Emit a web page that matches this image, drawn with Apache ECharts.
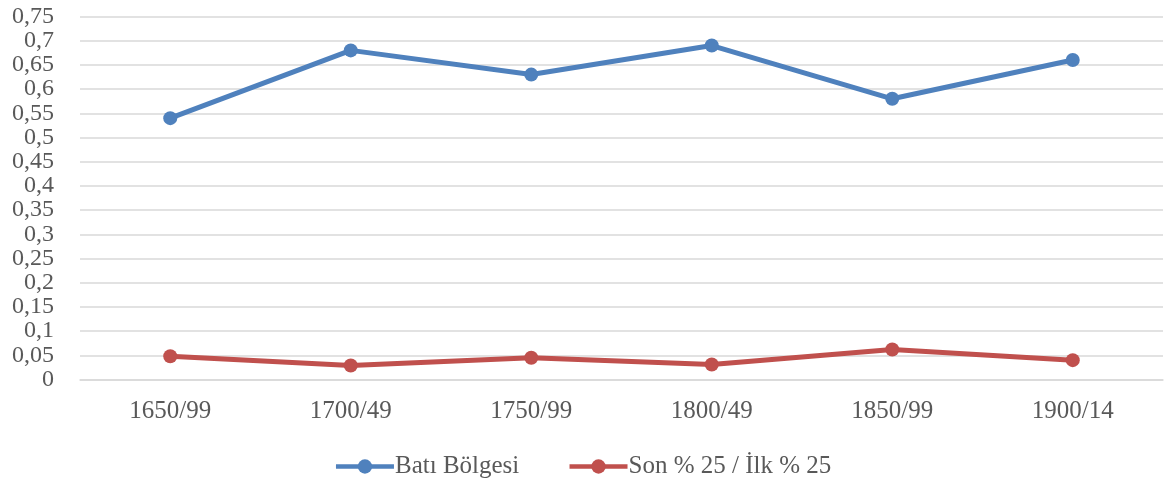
<!DOCTYPE html>
<html>
<head>
  <meta charset="UTF-8">
  <title>Batı Bölgesi</title>
  <script src="https://cdn.jsdelivr.net/npm/echarts@6/dist/echarts.min.js"></script>
  <style>
    html, body { margin: 0; padding: 0; background: #fff; }
    #main { width: 1165px; height: 486px; }
  </style>
</head>
<body>
<div id="main"></div>
<script>
  const categories = ['1650/99', '1700/49', '1750/99', '1800/49', '1850/99', '1900/14'];
  const bati = [0.54, 0.68, 0.63, 0.69, 0.58, 0.66];
  const sonIlk = [0.048, 0.029, 0.045, 0.031, 0.062, 0.040];

  const font = 'Liberation Serif';
  const textColor = '#595959';

  let myChart = echarts.init(document.getElementById('main'), null, {renderer: 'canvas'});
  myChart.setOption({
    animation: false,
    grid: { left: 80, right: 2, top: 16.5, bottom: 106.5 },
    xAxis: {
      type: 'category',
      data: categories,
      axisLine: { show: true, lineStyle: { color: '#d9d9d9', width: 1.5 } },
      axisTick: { show: false },
      axisLabel: { color: textColor, fontFamily: font, fontSize: 25, margin: 19 }
    },
    yAxis: {
      type: 'value',
      min: 0,
      max: 0.75,
      interval: 0.05,
      axisLine: { show: false },
      axisTick: { show: false },
      splitLine: { lineStyle: { color: '#d9d9d9', width: 1.5 } },
      axisLabel: {
        color: textColor, fontFamily: font, fontSize: 24, lineHeight: 20, margin: 26,
        showMinLabel: true, showMaxLabel: true, hideOverlap: false,
        formatter: function (v) { return String(+v.toFixed(2)).replace('.', ','); }
      }
    },
    legend: {
      bottom: 2,
      left: 'center',
      itemWidth: 58,
      itemHeight: 18,
      itemGap: 48,
      lineStyle: { width: 4.5 },
      textStyle: { color: textColor, fontFamily: font, fontSize: 25, padding: [0, 0, 0, -4] },
      data: ['Batı Bölgesi', 'Son % 25 / İlk % 25']
    },
    series: [{
      name: 'Batı Bölgesi',
      type: 'line',
      data: bati,
      symbol: 'circle',
      symbolSize: 14,
      color: '#4f81bd',
      lineStyle: { width: 5, color: '#4f81bd' },
      itemStyle: { color: '#4f81bd' }
    }, {
      name: 'Son % 25 / İlk % 25',
      type: 'line',
      data: sonIlk,
      symbol: 'circle',
      symbolSize: 14,
      color: '#c0504d',
      lineStyle: { width: 5, color: '#c0504d' },
      itemStyle: { color: '#c0504d' }
    }]
  });
</script>
</body>
</html>
